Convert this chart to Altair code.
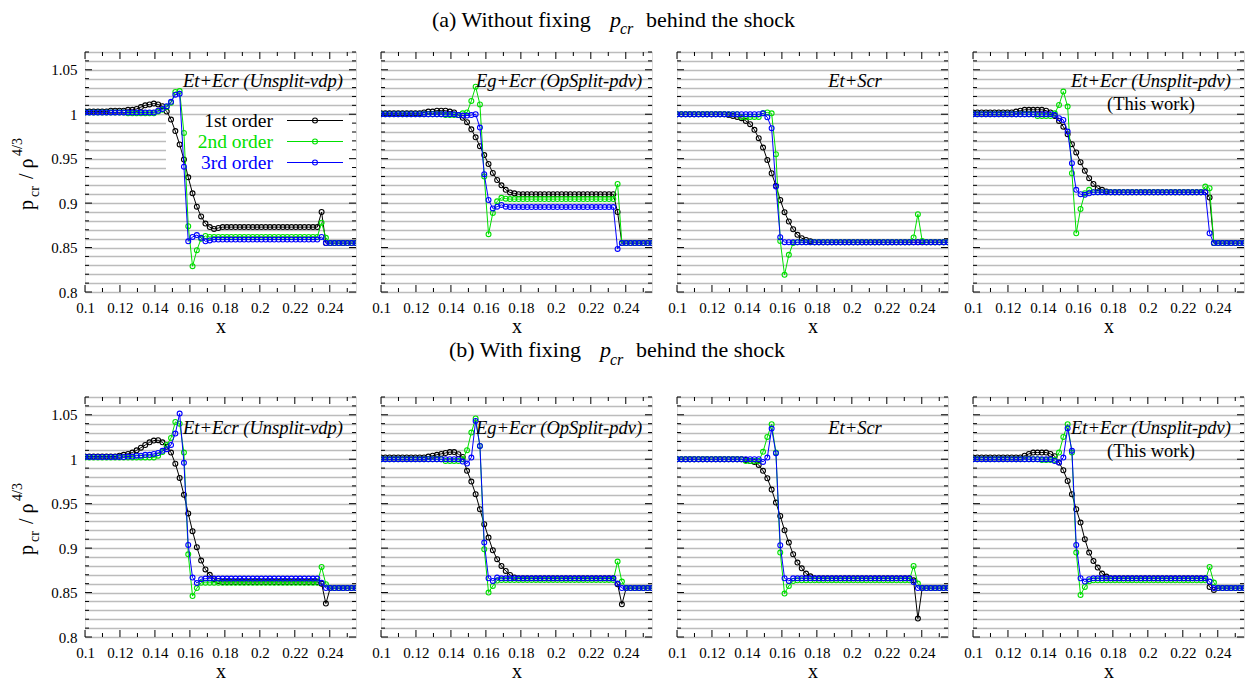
import altair as alt
import numpy as np
import pandas as pd

SERIF = "Liberation Serif"
W, H = 271, 240
XMIN, XMAX = 0.1, 0.255
YMIN, YMAX = 0.8, 1.07
GRID = "#bcbcbc"

# sample positions (64 cells between 0.1 and 0.255)
X = np.linspace(XMIN, XMAX, 64)

ORDERS = ["1st order", "2nd order", "3rd order"]
COLORS = ["#000000", "#00e000", "#0000ff"]
PANEL_LABELS = ["Et+Ecr (Unsplit-vdp)", "Eg+Ecr (OpSplit-pdv)", "Et+Scr", "Et+Ecr (Unsplit-pdv)"]

X_MAJOR = [0.10, 0.12, 0.14, 0.16, 0.18, 0.20, 0.22, 0.24]
X_MINOR = [0.11, 0.13, 0.15, 0.17, 0.19, 0.21, 0.23, 0.25]
Y_MAJOR = [0.80, 0.85, 0.90, 0.95, 1.00, 1.05]
Y_GRID = [0.80, 0.81, 0.82, 0.83, 0.84, 0.85, 0.86, 0.87, 0.88, 0.89, 0.90, 0.91, 0.92, 0.93,
          0.94, 0.95, 0.96, 0.97, 0.98, 0.99, 1.00, 1.01, 1.02, 1.03, 1.04, 1.05, 1.06, 1.07]
Y_MINOR = [v for v in Y_GRID if v not in Y_MAJOR]

# ---------------- (a) without fixing p_cr ----------------
A1_1 = [1.003] * 6 + [1.004] * 4 + [1.005, 1.005, 1.006, 1.008, 1.010, 1.011, 1.012, 1.011, 1.009, 1.003,
        0.994, 0.981, 0.966, 0.949, 0.929, 0.911, 0.896, 0.885, 0.877, 0.873, 0.871, 0.872] + [0.873] * 23 + [0.890] + [0.855] * 8
A1_2 = [1.002] * 10 + [1.001] * 7 + [1.003, 1.005, 1.008, 1.013, 1.025, 1.026, 0.979, 0.874, 0.829, 0.847, 0.860, 0.863, 0.862] + [0.862] * 25 + [0.878, 0.861] + [0.855] * 7
A1_3 = [1.002] * 17 + [1.004, 1.006, 1.009, 1.014, 1.022, 1.023, 0.941, 0.857, 0.862, 0.864, 0.861, 0.857, 0.858] + [0.859] * 25 + [0.862] + [0.855] * 8

A2_1 = [1.001] * 10 + [1.002, 1.003, 1.003, 1.004, 1.004, 1.004, 1.003, 1.002] + [0.999, 0.996, 0.991, 0.983, 0.974, 0.964, 0.954, 0.944, 0.934, 0.926, 0.920, 0.915, 0.912, 0.911] + [0.910] * 23 + [0.890] + [0.855] * 8
A2_2 = [1.000] * 15 + [0.999] * 4 + [1.001, 1.002, 1.015, 1.031, 1.011, 0.930, 0.865, 0.889, 0.902, 0.906, 0.905] + [0.9045] * 25 + [0.9215] + [0.855] * 8
A2_3 = [1.000] * 18 + [0.999, 0.9985, 0.9985, 0.999, 1.000, 0.985, 0.9325, 0.9035, 0.894, 0.896, 0.898, 0.896] + [0.8955] * 25 + [0.8485] + [0.855] * 8

A3_1 = [1.000] * 12 + [0.999, 0.998, 0.997, 0.9955, 0.9925, 0.9888, 0.9824, 0.973, 0.9625, 0.9486, 0.9336, 0.9194, 0.9036, 0.8898, 0.8793, 0.8706, 0.8643, 0.8605, 0.8586, 0.857] + [0.856] * 32
A3_2 = [1.000] * 15 + [0.997] * 5 + [1.001, 1.002, 1.001, 0.955, 0.8575, 0.8193, 0.8418, 0.855] + [0.856] * 27 + [0.8613, 0.8875, 0.8575] + [0.856] * 6
A3_3 = [1.000] * 20 + [1.001, 0.9966, 0.9843, 0.9186, 0.8616] + [0.856] * 39

A4_1 = [1.002] * 10 + [1.003, 1.004, 1.005, 1.005, 1.005, 1.005, 1.005, 1.004] + [1.002, 0.998, 0.9925, 0.986, 0.9775, 0.9663, 0.957, 0.946, 0.9363, 0.928, 0.9216, 0.9168, 0.9149, 0.913] + [0.9123] * 23 + [0.9063] + [0.855] * 8
A4_2 = [1.000] * 15 + [0.998] * 4 + [1.001, 1.0105, 1.0255, 1.0086, 0.9336, 0.8661, 0.8935, 0.9111, 0.9149] + [0.9123] * 26 + [0.9186, 0.9168] + [0.855] * 8
A4_3 = [1.000] * 19 + [0.999, 0.9955, 0.9936, 0.9805, 0.9449, 0.9149, 0.910, 0.9093, 0.911] + [0.9123] * 27 + [0.8661] + [0.855] * 8

# ---------------- (b) with fixing p_cr ----------------
B1_1 = [1.003] * 8 + [1.004, 1.005, 1.006, 1.0075, 1.010, 1.013, 1.016, 1.019, 1.021, 1.0214, 1.019, 1.014,
       1.0075, 0.995, 0.979, 0.960, 0.939, 0.919, 0.901, 0.886, 0.876, 0.870, 0.865, 0.863] + [0.862] * 23 + [0.860, 0.8376] + [0.855] * 7
B1_2 = [1.002] * 17 + [1.004, 1.008, 1.016, 1.024, 1.042, 1.040, 1.0075, 0.893, 0.846, 0.855, 0.861] + [0.861] * 27 + [0.8788, 0.8594] + [0.855] * 7
B1_3 = [1.0025] * 10 + [1.003, 1.003, 1.004, 1.004, 1.005, 1.005, 1.006, 1.007] + [1.0094, 1.0113, 1.0161, 1.0289, 1.0514, 0.9959, 0.9036, 0.8668, 0.8608, 0.865] + [0.8657] * 27 + [0.861] + [0.855] * 8

B2_1 = [1.002] * 10 + [1.002, 1.003, 1.004, 1.005, 1.006, 1.007, 1.008, 1.008, 1.0056] + [1.0026, 0.9869, 0.9749, 0.9606, 0.9437, 0.9269, 0.9119, 0.8976, 0.8875, 0.880, 0.8743, 0.8698, 0.8668] + [0.866] * 23 + [0.8594, 0.8368] + [0.855] * 7
B2_2 = [1.000] * 15 + [0.998] * 4 + [1.000, 1.0101, 1.030, 1.0458, 1.015, 0.8987, 0.850, 0.8575, 0.8635] + [0.864] * 27 + [0.8848, 0.8623] + [0.855] * 7
B2_3 = [1.000] * 19 + [0.9974, 0.9951, 1.0019, 1.0431, 1.015, 0.9062, 0.8661, 0.8631, 0.8668] + [0.866] * 27 + [0.8601] + [0.855] * 8

B3_1 = [1.000] * 16 + [0.999, 0.998, 0.997, 0.9936, 0.9869, 0.9786, 0.9659, 0.9512, 0.9362, 0.9201, 0.9062, 0.8931, 0.8837, 0.8773, 0.8713, 0.8683] + [0.866] * 23 + [0.8638, 0.8207] + [0.855] * 7
B3_2 = [1.000] * 16 + [0.998] * 4 + [1.0083, 1.0251, 1.0394, 1.0075, 0.895, 0.8488, 0.8575, 0.863] + [0.8638] * 27 + [0.880, 0.8601] + [0.855] * 7
B3_3 = [1.000] * 20 + [0.997, 1.0019, 1.0345, 1.0068, 0.9032, 0.8661, 0.8631, 0.866] + [0.866] * 27 + [0.862] + [0.855] * 8

B4_1 = [1.002] * 12 + [1.004, 1.006, 1.0075, 1.0075, 1.0075, 1.0075, 1.006] + [1.0034, 0.9962, 0.9876, 0.9756, 0.9606, 0.9437, 0.9287, 0.910, 0.895, 0.8856, 0.8781, 0.8713, 0.868] + [0.866] * 23 + [0.8563, 0.853] + [0.855] * 7
B4_2 = [1.000] * 16 + [0.999] * 4 + [1.0075, 1.0251, 1.0394, 1.0075, 0.895, 0.8473, 0.8563, 0.8626] + [0.8638] * 27 + [0.8788, 0.8612] + [0.855] * 7
B4_3 = [1.000] * 19 + [0.998, 0.9962, 1.0019, 1.0349, 1.0094, 0.9036, 0.8661, 0.8623, 0.865] + [0.866] * 27 + [0.8623] + [0.855] * 8

ROW_A = [[A1_1, A1_2, A1_3], [A2_1, A2_2, A2_3], [A3_1, A3_2, A3_3], [A4_1, A4_2, A4_3]]
ROW_B = [[B1_1, B1_2, B1_3], [B2_1, B2_2, B2_3], [B3_1, B3_2, B3_3], [B4_1, B4_2, B4_3]]

for row in (ROW_A, ROW_B):
    for panel in row:
        for s in panel:
            assert len(s) == 64, len(s)

ONE = pd.DataFrame({"a": [0]})
xs = alt.Scale(domain=[XMIN, XMAX], nice=False, zero=False)
ys = alt.Scale(domain=[YMIN, YMAX], nice=False, zero=False)
LABEL_EXPR = "abs(datum.value*20 - round(datum.value*20)) < 0.001 ? format(datum.value, '~g') : ''"


def txt(s, x, y, size, italic=False, align="left", color="black", angle=None):
    kw = dict(text=s, font=SERIF, fontSize=size, align=align, baseline="alphabetic", color=color)
    if italic:
        kw["fontStyle"] = "italic"
    if angle is not None:
        kw["angle"] = angle
    return alt.Chart(ONE).mark_text(**kw).encode(x=alt.value(x), y=alt.value(y))


def make_panel(series, col, row_name):
    first = col == 0
    yaxis = alt.Axis(values=Y_GRID, grid=True, gridColor=GRID, gridWidth=1.4, ticks=False, tickSize=0,
                     domain=False, labels=first, labelExpr=LABEL_EXPR, labelFont=SERIF, labelFontSize=15,
                     labelColor="black", labelPadding=8, labelFlush=False, labelOverlap=False, title=None)
    xaxis = alt.Axis(values=X_MAJOR, grid=False, ticks=False, tickSize=0, domain=False, format="~g",
                     labelFont=SERIF, labelFontSize=15, labelColor="black", labelPadding=8,
                     labelFlush=False, labelOverlap=False, title="x", titleFont=SERIF, titleFontSize=20,
                     titleFontWeight="normal", titleColor="black", titlePadding=1)

    def xf(field):
        return alt.X(field, type="quantitative", scale=xs, axis=xaxis, title="x")

    def yf(field):
        return alt.Y(field, type="quantitative", scale=ys, axis=yaxis, title=None)

    def ticks(values, horizontal, a, b):
        df = pd.DataFrame({"x": values, "y": values})
        if horizontal:
            return alt.Chart(df).mark_rule(color="black", strokeWidth=1).encode(
                x=alt.value(a), x2=alt.value(b), y=yf("y"))
        return alt.Chart(df).mark_rule(color="black", strokeWidth=1).encode(
            x=xf("x"), y=alt.value(a), y2=alt.value(b))

    layers = []
    if first and row_name == "a":
        layers.append(alt.Chart(ONE).mark_rect(color="white").encode(
            x=alt.value(81), x2=alt.value(W), y=alt.value(65), y2=alt.value(120)))

    # inward ticks on all four sides
    layers += [
        ticks(X_MAJOR, False, H, H - 7), ticks(X_MINOR, False, H, H - 4),
        ticks(X_MAJOR, False, 0, 7), ticks(X_MINOR, False, 0, 4),
        ticks(Y_MAJOR, True, 0, 7), ticks(Y_MINOR, True, 0, 4),
        ticks(Y_MAJOR, True, W, W - 7), ticks(Y_MINOR, True, W, W - 4),
    ]

    for vals, color in zip(series, COLORS):
        df = pd.DataFrame({"x": X, "y": vals})
        enc = dict(x=xf("x"), y=yf("y"))
        layers.append(alt.Chart(df).mark_line(color=color, strokeWidth=1, clip=True).encode(**enc))
        layers.append(alt.Chart(df).mark_point(shape="circle", filled=False, size=24, strokeWidth=1.1,
                                               color=color, opacity=1, clip=True).encode(**enc))

    lab_y = 35 if row_name == "a" else 37
    layers.append(txt(PANEL_LABELS[col], 178, lab_y, 18.5, italic=True, align="center"))
    if col == 3:
        layers.append(txt("(This work)", 178, lab_y + 23, 18.5, align="center"))

    if first and row_name == "a":
        for i, (name, color) in enumerate(zip(ORDERS, COLORS)):
            yy = 68.5 + 21 * i
            layers.append(txt(name, 188, yy + 6.5, 19.5, align="right", color=color))
            layers.append(alt.Chart(ONE).mark_rule(color=color, strokeWidth=1).encode(
                x=alt.value(202), x2=alt.value(258), y=alt.value(yy)))
            layers.append(alt.Chart(ONE).mark_point(shape="circle", filled=False, size=24, strokeWidth=1.1,
                                                    color=color, opacity=1).encode(
                x=alt.value(230), y=alt.value(yy)))

    if first:
        # rotated y title: p_cr / rho^(4/3)
        layers += [
            txt("p", -52, 158, 20, angle=270),
            txt("cr", -46.5, 145, 14, angle=270),
            txt("/ ρ", -52, 127, 20, angle=270),
            txt("4/3", -63, 104, 14, angle=270),
        ]
        if row_name == "a":
            layers += [
                txt("(a) Without fixing", 347, -25.5, 22),
                txt("p", 525, -25.5, 22, italic=True),
                txt("cr", 535, -18, 16, italic=True),
                txt("behind the shock", 561, -25.5, 22),
            ]
        else:
            layers += [
                txt("(b) With fixing", 364, -40, 22),
                txt("p", 515, -40, 22, italic=True),
                txt("cr", 525, -32.5, 16, italic=True),
                txt("behind the shock", 551, -40, 22),
            ]

    return alt.layer(*layers).properties(width=W, height=H)


panels = [make_panel(s, i, "a") for i, s in enumerate(ROW_A)] + \
         [make_panel(s, i, "b") for i, s in enumerate(ROW_B)]

chart = alt.concat(*panels, columns=4, spacing={"row": 105, "column": 25}, bounds="flush").properties(
    padding={"left": 2, "top": 0, "right": 0, "bottom": 0}
).configure_view(stroke="black", strokeWidth=2).configure(background="white")

chart.save("out.html", embed_options={"renderer": "svg", "actions": False})
